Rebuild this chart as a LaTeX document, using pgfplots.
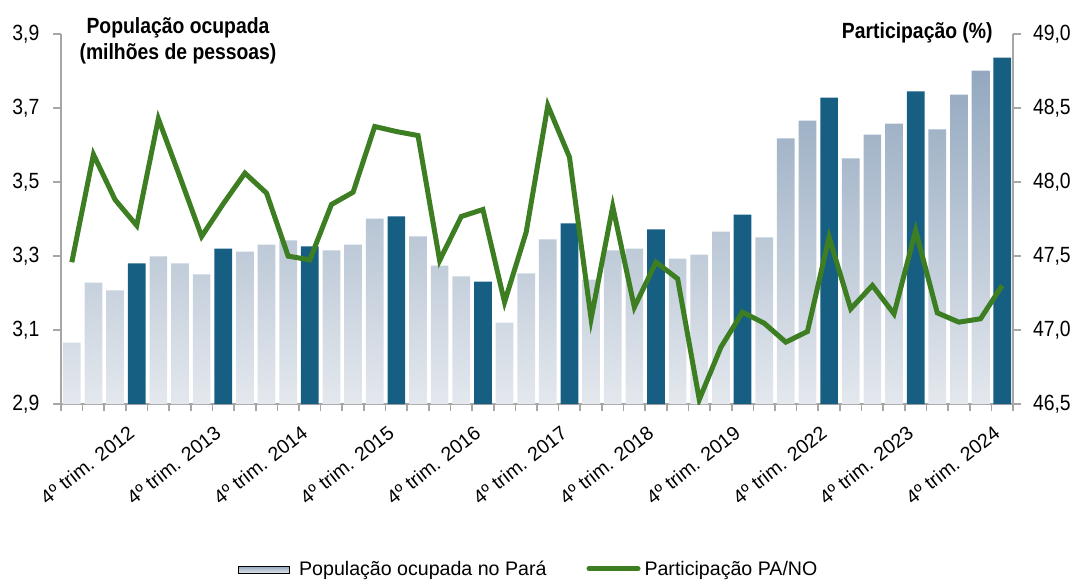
\documentclass[border=0pt]{standalone}
\usepackage{pgfplots}
\pgfplotsset{compat=1.18}
\usepackage{pgfplotstable}
\usepackage{fontspec}
\setmainfont{Liberation Sans}
\newfontfamily\narrow{Liberation Sans}[FakeStretch=0.88]
\definecolor{barTop}{HTML}{93A8BF}
\definecolor{barBot}{HTML}{E4E8EE}
\definecolor{barDark}{HTML}{175E83}
\definecolor{lineGreen}{HTML}{3D7E23}
\definecolor{axGray}{HTML}{A6A6A6}

\pgfplotstableread{
x v
0 3.066
1 3.228
2 3.207
4 3.299
5 3.280
6 3.250
8 3.312
9 3.331
10 3.342
12 3.315
13 3.331
14 3.401
16 3.353
17 3.274
18 3.245
20 3.120
21 3.253
22 3.345
24 3.236
25 3.315
26 3.320
28 3.293
29 3.304
30 3.366
32 3.350
33 3.618
34 3.666
36 3.564
37 3.628
38 3.658
40 3.642
41 3.736
42 3.801
}\lightdata

\pgfplotstableread{
x v
3 3.280
7 3.320
11 3.326
15 3.407
19 3.231
23 3.388
27 3.372
31 3.412
35 3.728
39 3.745
43 3.836
}\darkdata

\pgfplotstableread{
x p
0 47.458
1 48.186
2 47.880
3 47.706
4 48.427
5 48.033
6 47.632
7 47.853
8 48.060
9 47.925
10 47.499
11 47.474
12 47.848
13 47.931
14 48.375
15 48.341
16 48.314
17 47.470
18 47.767
19 47.814
20 47.188
21 47.661
22 48.517
23 48.168
24 47.076
25 47.834
26 47.154
27 47.458
28 47.346
29 46.530
30 46.884
31 47.120
32 47.046
33 46.918
34 46.990
35 47.627
36 47.143
37 47.301
38 47.109
39 47.672
40 47.116
41 47.053
42 47.076
43 47.301
}\linedata

\begin{document}
\begin{tikzpicture}
\begin{axis}[
  at={(0,0)}, anchor=south west, scale only axis,
  width=476pt, height=185pt,
  xmin=-0.5, xmax=43.5, ymin=0, ymax=1,
  axis x line*=bottom, axis y line*=left,
  axis line style={axGray, line width=0.8pt},
  tick align=outside,
  tick style={axGray, line width=0.8pt},
  major tick length=4pt, minor tick length=3.5pt,
  ytick={0,0.2,0.4,0.6,0.8,1},
  yticklabels={{2,9},{3,1},{3,3},{3,5},{3,7},{3,9}},
  yticklabel style={font=\narrow\fontsize{11}{13}\selectfont, text=black, xshift=-3.3pt},
  xtick={3,7,11,15,19,23,27,31,35,39,43},
  xticklabels={4º trim. 2012,4º trim. 2013,4º trim. 2014,4º trim. 2015,4º trim. 2016,4º trim. 2017,4º trim. 2018,4º trim. 2019,4º trim. 2022,4º trim. 2023,4º trim. 2024},
  major x tick style={draw=none},
  minor xtick={-0.5,0.5,...,43.5},
  xticklabel style={rotate=38, anchor=north east, font=\fontsize{9.8}{11}\selectfont, text=black, inner sep=1pt, yshift=-0.8pt, xshift=-6.5pt},
  clip=false,
]
\addplot[ybar, bar width=8.85pt, bar shift=0pt, draw=none, top color=barTop, bottom color=barBot]
  table[x=x, y expr=\thisrow{v}-2.9] {\lightdata};
\addplot[ybar, bar width=8.85pt, bar shift=0pt, draw=none, fill=barDark]
  table[x=x, y expr=\thisrow{v}-2.9] {\darkdata};
\end{axis}
\begin{axis}[
  at={(0,0)}, anchor=south west, scale only axis,
  width=476pt, height=185pt,
  xmin=-0.5, xmax=43.5, ymin=46.5, ymax=49,
  axis x line=none, axis y line*=right,
  axis line style={axGray, line width=0.8pt},
  tick align=outside,
  tick style={axGray, line width=0.8pt},
  major tick length=4pt,
  ytick={46.5,47,47.5,48,48.5,49},
  yticklabels={{46,5},{47,0},{47,5},{48,0},{48,5},{49,0}},
  yticklabel style={font=\narrow\fontsize{11}{13}\selectfont, text=black, xshift=2.5pt},
  legend columns=2,
  legend style={at={(0.4925,-0.4486)}, anchor=center, draw=none, fill=none,
    font=\fontsize{9.8}{11}\selectfont, inner sep=0pt,
    /tikz/every even column/.append style={column sep=18pt}},
  legend cell align=left,
]
\addlegendimage{legend image code/.code={\shade[top color=barTop, bottom color=barBot] (0pt,-1.9pt) rectangle (25.5pt,1.9pt); \path (28pt,0pt);}}
\addlegendentry{População ocupada no Pará}
\addplot[lineGreen, line width=2.5pt, no markers,
  legend image code/.code={\draw[lineGreen, line width=2.5pt, line cap=round] (1.25pt,0.6pt) -- (25.75pt,0.6pt);}]
  table[x=x, y=p] {\linedata};
\addlegendentry{Participação PA/NO}
\end{axis}
\node[font=\narrow\bfseries\fontsize{11}{13}\selectfont, align=center] at (58.5pt,181.5pt) {População ocupada\\(milhões de pessoas)};
\node[font=\narrow\bfseries\fontsize{11}{13}\selectfont, anchor=east, inner sep=0pt] at (466pt,185.5pt) {Participação (\%)};
\pgfresetboundingbox
\path[use as bounding box] (-30.5pt,-89.5pt) rectangle (507pt,202pt);
\end{tikzpicture}
\end{document}
